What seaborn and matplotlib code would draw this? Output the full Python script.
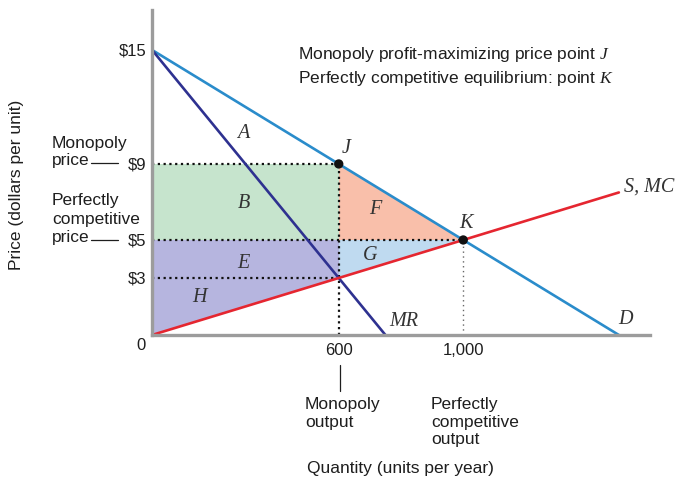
import matplotlib
matplotlib.use("Agg")
import matplotlib.pyplot as plt
from matplotlib.lines import Line2D
import seaborn as sns

# ---- data ----
demand_q = [0, 1500]
demand_p = [15, 0]
mr_q = [0, 750]
mr_p = [15, 0]
supply_q = [0, 1500]
supply_p = [0, 7.5]
mono_q = 600
mono_p = 9
mc_mono = 3
comp_q = 1000
comp_p = 5
price_ticks = [15, 9, 5, 3]
price_labels = ["$15", "$9", "$5", "$3"]
qty_ticks = [600, 1000]
qty_labels = ["600", "1,000"]

sns.set_theme(style="white")
plt.rcParams['font.family'] = ['Liberation Sans', 'DejaVu Sans']
plt.rcParams['mathtext.fontset'] = 'custom'
plt.rcParams['mathtext.rm'] = 'Liberation Sans'
plt.rcParams['mathtext.it'] = 'Liberation Serif:italic'

W, H = 679, 483
fig = plt.figure(figsize=(W / 100, H / 100), dpi=100)
ax = fig.add_axes([152 / W, 1 - 335 / H, 498 / W, 325 / H])

def px(x, y):
    return x / W, 1 - y / H

txt = '#1e1e1e'
green = '#c6e4cd'
salmon = '#f9bfaa'
lblue = '#bfdaf0'
lav = '#b6b5df'
blue = '#2a8ccb'
navy = '#2e3190'
red = '#e52630'

# shaded areas
ax.fill_between([0, mono_q], comp_p, mono_p, color=green, lw=0, zorder=1)
ax.fill([mono_q, mono_q, comp_q], [mono_p, comp_p, comp_p], color=salmon, lw=0, zorder=1)
ax.fill([mono_q, mono_q, comp_q], [comp_p, mc_mono, comp_p], color=lblue, lw=0, zorder=1)
ax.fill_between([0, mono_q], mc_mono, comp_p, color=lav, lw=0, zorder=1)
ax.fill([0, 0, mono_q], [0, mc_mono, mc_mono], color=lav, lw=0, zorder=1)

# dotted guides
dot = dict(color='#111111', lw=1.6, linestyle=(0, (1, 1.6)), zorder=2)
ax.plot([0, mono_q], [mono_p, mono_p], **dot)
ax.plot([0, comp_q], [comp_p, comp_p], **dot)
ax.plot([0, mono_q], [mc_mono, mc_mono], **dot)
ax.plot([mono_q, mono_q], [0, mono_p], **dot)
ax.plot([comp_q, comp_q], [0, comp_p], color='#666666', lw=1.0, linestyle=(0, (1, 2.5)), zorder=2)

# curves
sns.lineplot(x=demand_q, y=demand_p, ax=ax, color=blue, lw=1.9, zorder=3)
sns.lineplot(x=mr_q, y=mr_p, ax=ax, color=navy, lw=1.9, zorder=3)
sns.lineplot(x=supply_q, y=supply_p, ax=ax, color=red, lw=1.9, zorder=3)
sns.scatterplot(x=[mono_q, comp_q], y=[mono_p, comp_p], ax=ax, color='#111111', s=45,
                zorder=5, edgecolor='none')

ax.set_xlim(0, 1600)
ax.set_ylim(0, 17.1)
for s in ['top', 'right']:
    ax.spines[s].set_visible(False)
for s in ['left', 'bottom']:
    ax.spines[s].set_color('#9c9c9c')
    ax.spines[s].set_linewidth(2.4)
    ax.spines[s].set_zorder(4)

ax.set_yticks(price_ticks)
ax.set_yticklabels(price_labels)
ax.set_xticks(qty_ticks)
ax.set_xticklabels(qty_labels)
ax.tick_params(axis='y', length=0, pad=4, labelsize=12, labelcolor=txt)
ax.tick_params(axis='x', length=0, pad=6, labelsize=12, labelcolor=txt)
ax.set_xlabel('')
ax.set_ylabel('')

# italic region labels
it = dict(family='Liberation Serif', style='italic', fontsize=14.5, color='#333333',
          ha='center', va='center', transform=fig.transFigure)
for lab, x, y in [('A', 243, 133), ('B', 244, 203), ('E', 243, 264), ('H', 199, 298),
                  ('F', 375, 210), ('G', 370, 256), ('J', 346, 148), ('K', 466, 223),
                  ('MR', 404, 321), ('D', 625, 320)]:
    fig.text(*px(x, y), lab, **it)
fig.text(*px(624, 187), 'S, MC', family='Liberation Serif', style='italic', fontsize=14.5,
         color='#333333', ha='left', va='center', transform=fig.transFigure)

# header notes
fs = 12.5
fig.text(*px(298, 55), r'Monopoly profit-maximizing price point $\mathit{J}$', fontsize=fs,
         color=txt, ha='left', va='center')
fig.text(*px(298, 79), r'Perfectly competitive equilibrium: point $\mathit{K}$', fontsize=fs,
         color=txt, ha='left', va='center')

# left annotations
fig.text(*px(52, 143), 'Monopoly', fontsize=fs, color=txt, ha='left', va='center')
fig.text(*px(52, 161), 'price', fontsize=fs, color=txt, ha='left', va='center')
fig.text(*px(52, 200), 'Perfectly', fontsize=fs, color=txt, ha='left', va='center')
fig.text(*px(52, 219), 'competitive', fontsize=fs, color=txt, ha='left', va='center')
fig.text(*px(52, 238), 'price', fontsize=fs, color=txt, ha='left', va='center')
for yy in (163, 240):
    x0, y0 = px(91, yy)
    x1, _ = px(118, yy)
    fig.add_artist(Line2D([x0, x1], [y0, y0], color=txt, lw=0.9, transform=fig.transFigure))
fig.text(*px(141, 346), '0', fontsize=12, color=txt, ha='center', va='center')
fig.text(*px(17, 185), 'Price (dollars per unit)', fontsize=fs, color=txt, rotation=90,
         ha='center', va='center')

# bottom annotations
x0, y0 = px(340, 365)
_, y1 = px(340, 391)
fig.add_artist(Line2D([x0, x0], [y0, y1], color=txt, lw=0.9, transform=fig.transFigure))
fig.text(*px(305, 397), 'Monopoly\noutput', fontsize=fs, color=txt, ha='left', va='top',
         linespacing=1.22)
fig.text(*px(431, 397), 'Perfectly\ncompetitive\noutput', fontsize=fs, color=txt, ha='left',
         va='top', linespacing=1.22)
fig.text(*px(400, 468), 'Quantity (units per year)', fontsize=fs, color=txt, ha='center',
         va='center')

fig.savefig('out.png', dpi=100)
